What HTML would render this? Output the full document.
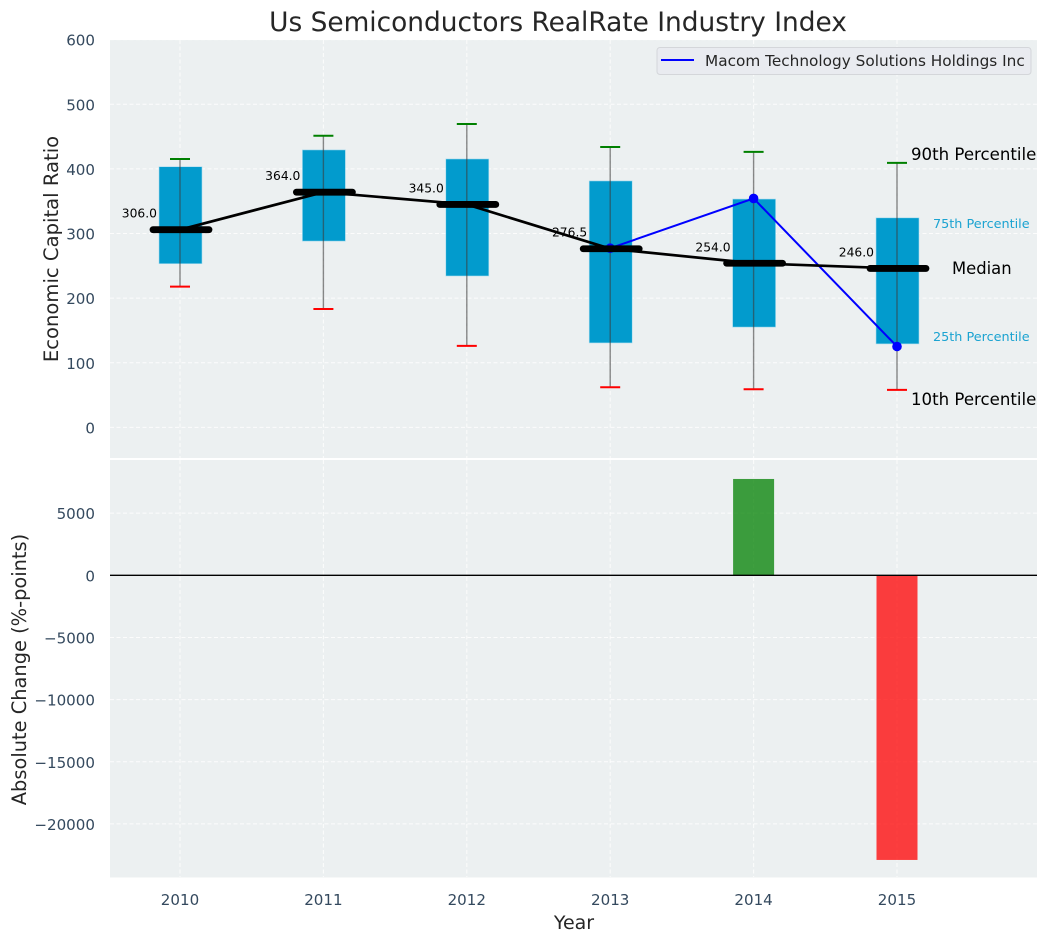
<!DOCTYPE html>
<html lang="en">
<head>
<meta charset="utf-8">
<title>Us Semiconductors RealRate Industry Index</title>
<style>
html,body{margin:0;padding:0;background:#fff;}
svg{display:block;font-family:"DejaVu Sans","Liberation Sans",sans-serif;}
</style>
</head>
<body>
<svg id="chart" xmlns="http://www.w3.org/2000/svg" width="1048" height="942" viewBox="0 0 1048 942">
  <rect x="110" y="40" width="927" height="418" fill="#ecf0f1"/>
  <rect x="110" y="460" width="927" height="417.5" fill="#ecf0f1"/>
  <g id="grid"></g>
  <g id="bars"></g>
  <g id="boxes"></g>
  <g id="series"></g>
  <g id="ticks"></g>
  <text x="558" y="31" font-size="26.4" text-anchor="middle" fill="#262626">Us Semiconductors RealRate Industry Index</text>
  <text transform="translate(58 249) rotate(-90)" font-size="19.6" text-anchor="middle" fill="#262626">Economic Capital Ratio</text>
  <text transform="translate(26 669.5) rotate(-90)" font-size="19.4" text-anchor="middle" fill="#262626">Absolute Change (%-points)</text>
  <text x="574" y="929" font-size="19" text-anchor="middle" fill="#262626">Year</text>
  <g>
    <rect x="657" y="47.5" width="374" height="27" rx="3" fill="#e9ebf0" stroke="#d4d6da" stroke-width="1"/>
    <line x1="661" y1="60" x2="694" y2="60" stroke="#0000ff" stroke-width="2"/>
    <text x="705" y="66" font-size="15.3" fill="#262626">Macom Technology Solutions Holdings Inc</text>
  </g>
  <g>
    <text x="911" y="160" font-size="16.6" fill="#000">90th Percentile</text>
    <text x="933" y="228" font-size="12.8" fill="#1ba3d1">75th Percentile</text>
    <text x="952" y="274" font-size="16.4" fill="#000">Median</text>
    <text x="933" y="341" font-size="12.8" fill="#1ba3d1">25th Percentile</text>
    <text x="911" y="405" font-size="16.6" fill="#000">10th Percentile</text>
  </g>
</svg>
<script>
const years = [2010, 2011, 2012, 2013, 2014, 2015];
const p90 = [415.4, 451.4, 469.5, 434, 426.4, 409.4];
const p75 = [403.4, 429.4, 415.4, 381.4, 353.4, 324.3];
const medians = [306, 364, 345, 276.5, 254, 246];
const p25 = [253.3, 288.3, 234.3, 130.7, 155.2, 129.2];
const p10 = [217.8, 183.2, 126.2, 62.1, 59.1, 58.1];
const medianLabels = ['306.0', '364.0', '345.0', '276.5', '254.0', '246.0'];
const companyYears = [2013, 2014, 2015];
const companyValues = [277.3, 354.3, 125.2];
const changeYears = [2014, 2015];
const changeValues = [7750, -22900];
const topTicks = [0, 100, 200, 300, 400, 500, 600];
const bottomTicks = [5000, 0, -5000, -10000, -15000, -20000];

const NS = 'http://www.w3.org/2000/svg';
const xScale = v => 180 + (v - 2010) * 143.4;
const yTop = v => 427.4 - v * 0.6462;
const yBottom = v => 575.3 - v * 0.01243;

function make(parent, tag, props, content) {
  const el = document.createElementNS(NS, tag);
  for (const k in props) el.setAttribute(k, props[k]);
  if (content !== undefined) el.textContent = content;
  document.getElementById(parent).appendChild(el);
  return el;
}

// Grid lines
const gridStyle = {stroke: '#ffffff', 'stroke-width': 1, 'stroke-dasharray': '4 2.5', opacity: 0.85};
years.forEach(yr => {
  const a = make('grid', 'line', {x1: xScale(yr), x2: xScale(yr), y1: 40, y2: 458, ...gridStyle});
  
  
  const b = make('grid', 'line', {x1: xScale(yr), x2: xScale(yr), y1: 460, y2: 877, ...gridStyle});
  
  
  const t = make('ticks', 'text', {x: xScale(yr), y: 905, 'font-size': 15.1, 'text-anchor': 'middle', fill: '#34495e'}, String(yr));
  
  
});
topTicks.forEach(v => {
  const g = make('grid', 'line', {x1: 110, x2: 1037, y1: yTop(v), y2: yTop(v), ...gridStyle});
  
  
  const t = make('ticks', 'text', {x: 95, y: yTop(v) + 6, 'font-size': 15.1, 'text-anchor': 'end', fill: '#34495e'}, String(v));
  
  
});
bottomTicks.forEach(v => {
  const g = make('grid', 'line', {x1: 110, x2: 1037, y1: yBottom(v), y2: yBottom(v), ...gridStyle});
  
  
  const t = make('ticks', 'text', {x: 95, y: yBottom(v) + 6, 'font-size': 15.1, 'text-anchor': 'end', fill: '#34495e'}, String(v).replace('-', '\u2212'));
  
  
});

// Change bars
changeYears.forEach((yr, i) => {
  const v = changeValues[i];
  const top = Math.min(yBottom(v), yBottom(0));
  const h = Math.abs(yBottom(v) - yBottom(0));
  const r = make('bars', 'rect', {x: xScale(yr) - 20.5, y: top, width: 41, height: h, fill: v >= 0 ? '#008000' : '#ff0000', 'fill-opacity': 0.75});
  
  
});
const zero = make('bars', 'line', {x1: 110, x2: 1037, y1: yBottom(0), y2: yBottom(0), stroke: '#000', 'stroke-width': 1.3});



// Boxes, whiskers and caps
years.forEach((yr, i) => {
  const x = xScale(yr);
  const box = make('boxes', 'rect', {x: x - 21, y: yTop(p75[i]), width: 43, height: yTop(p25[i]) - yTop(p75[i]), fill: '#029bcd', stroke: '#a9dcee', 'stroke-width': 0.6});
  
  
  const w = make('boxes', 'line', {x1: x, x2: x, y1: yTop(p90[i]), y2: yTop(p10[i]), stroke: '#3c3c3c', 'stroke-opacity': 0.6, 'stroke-width': 1.4});
  
  
  const c1 = make('boxes', 'line', {x1: x - 10, x2: x + 10, y1: yTop(p90[i]), y2: yTop(p90[i]), stroke: '#008000', 'stroke-width': 2});
  
  
  const c2 = make('boxes', 'line', {x1: x - 10, x2: x + 10, y1: yTop(p10[i]), y2: yTop(p10[i]), stroke: '#ff0000', 'stroke-width': 2});
  
  
});

// Company series
const co = make('series', 'polyline', {points: companyYears.map((yr, i) => xScale(yr) + ',' + yTop(companyValues[i])).join(' '), fill: 'none', stroke: '#0000ff', 'stroke-width': 2});


companyYears.forEach((yr, i) => {
  const d = make('series', 'circle', {cx: xScale(yr), cy: yTop(companyValues[i]), r: 4.8, fill: '#0000ff'});
  
  
});

// Median series
const ml = make('series', 'polyline', {points: years.map((yr, i) => xScale(yr) + ',' + yTop(medians[i])).join(' '), fill: 'none', stroke: '#000', 'stroke-width': 2.7});


years.forEach((yr, i) => {
  const x = xScale(yr);
  const m = make('series', 'line', {x1: x - 27, x2: x + 29, y1: yTop(medians[i]), y2: yTop(medians[i]), stroke: '#000', 'stroke-width': 6.8, 'stroke-linecap': 'round'});
  
  
  const t = make('series', 'text', {x: x - 23, y: yTop(medians[i]) - 12, 'font-size': 12.3, 'text-anchor': 'end', fill: '#000'}, medianLabels[i]);
  
  
});
</script>
</body>
</html>
